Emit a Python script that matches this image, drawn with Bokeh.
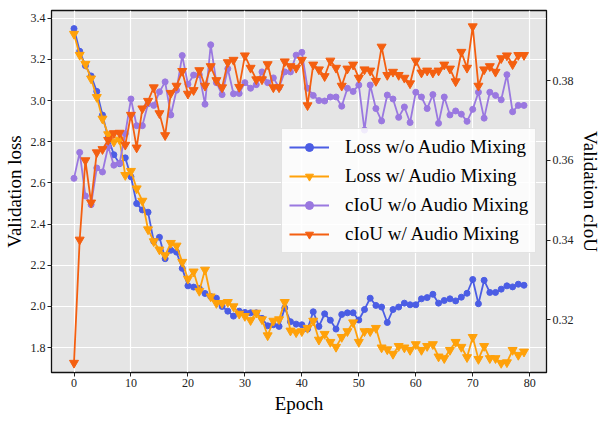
from bokeh.plotting import figure
from bokeh.models import (Range1d, LinearAxis, Legend, LegendItem, FixedTicker,
                          PrintfTickFormatter)
from bokeh.embed import file_html
from bokeh.resources import INLINE

epochs = list(range(80))

loss_wo = [3.35, 3.24, 3.17, 3.12, 3.045, 2.93, 2.82, 2.737, 2.694, 2.722,
           2.63, 2.50, 2.469, 2.458, 2.316, 2.336, 2.232, 2.273, 2.264, 2.185,
           2.10, 2.094, 2.087, 2.063, 2.048, 2.04, 2.00, 1.977, 1.953, 1.977,
           1.971, 1.969, 1.969, 1.942, 1.906, 1.911, 1.903, 1.993, 1.926, 1.914,
           1.911, 1.89, 1.974, 1.903, 1.964, 1.933, 1.890, 1.961, 1.969, 1.969,
           1.934, 1.985, 2.040, 2.005, 1.997, 1.922, 1.985, 1.997, 2.016, 2.008,
           2.008, 2.037, 2.043, 2.059, 2.016, 2.029, 2.037, 2.027, 2.045, 2.064,
           2.131, 2.013, 2.127, 2.068, 2.068, 2.084, 2.100, 2.095, 2.108, 2.103]

loss_w = [3.324, 3.222, 3.178, 3.107, 3.017, 2.912, 2.836, 2.80, 2.81, 2.638,
          2.658, 2.573, 2.513, 2.374, 2.316, 2.276, 2.248, 2.308, 2.295, 2.216,
          2.134, 2.169, 2.075, 2.178, 2.048, 2.016, 2.016, 2.021, 2.00, 1.964,
          1.953, 1.933, 1.969, 1.937, 1.859, 1.930, 1.937, 2.021, 1.882, 1.874,
          1.879, 1.895, 1.930, 1.838, 1.866, 1.827, 1.803, 1.851, 1.879, 1.922,
          1.827, 1.879, 1.879, 1.895, 1.800, 1.791, 1.769, 1.807, 1.800, 1.788,
          1.816, 1.788, 1.807, 1.816, 1.756, 1.748, 1.788, 1.827, 1.803, 1.753,
          1.851, 1.744, 1.807, 1.748, 1.748, 1.725, 1.728, 1.788, 1.764, 1.780]

ciou_wo = [0.3555, 0.362, 0.3511, 0.3489, 0.3581, 0.3571, 0.3635, 0.3588, 0.3593, 0.3667,
           0.3754, 0.3687, 0.3687, 0.3742, 0.3738, 0.3772, 0.3797, 0.3714, 0.3776, 0.3863,
           0.3791, 0.3814, 0.3815, 0.3741, 0.389, 0.3795, 0.3765, 0.383, 0.3767, 0.3768,
           0.3795, 0.3781, 0.379, 0.3822, 0.3795, 0.3807, 0.3783, 0.3822, 0.3822, 0.3864,
           0.3871, 0.3781, 0.3763, 0.375, 0.3749, 0.3759, 0.3759, 0.3736, 0.3781, 0.3773,
           0.3789, 0.3676, 0.3789, 0.373, 0.3699, 0.3764, 0.3754, 0.3708, 0.3734, 0.3695,
           0.3771, 0.3759, 0.373, 0.3765, 0.3693, 0.3759, 0.3714, 0.3724, 0.3716, 0.3698,
           0.3728, 0.3771, 0.3706, 0.3771, 0.3763, 0.3752, 0.3815, 0.3722, 0.3738, 0.3738]

ciou_w = [0.3092, 0.3401, 0.36, 0.3494, 0.362, 0.3628, 0.3651, 0.3668, 0.3669, 0.3639,
          0.3714, 0.3632, 0.373, 0.3749, 0.3783, 0.3718, 0.3663, 0.3769, 0.3787, 0.3824,
          0.3767, 0.3776, 0.3826, 0.3787, 0.3836, 0.3801, 0.3783, 0.3846, 0.3852, 0.3784,
          0.3863, 0.3832, 0.3803, 0.3803, 0.3841, 0.3783, 0.3783, 0.3848, 0.3836, 0.3832,
          0.3852, 0.3738, 0.384, 0.3828, 0.3811, 0.385, 0.3832, 0.3787, 0.383, 0.384,
          0.3807, 0.3828, 0.3825, 0.3799, 0.3885, 0.3814, 0.3822, 0.3814, 0.3807, 0.3793,
          0.385, 0.382, 0.3825, 0.382, 0.3825, 0.384, 0.383, 0.3798, 0.3872, 0.3832,
          0.3936, 0.3787, 0.3828, 0.3836, 0.3822, 0.3856, 0.3863, 0.3841, 0.3864, 0.3864]

labels = ["Loss w/o Audio Mixing", "Loss w/ Audio Mixing",
          "cIoU w/o Audio Mixing", "cIoU w/ Audio Mixing"]
x_ticks = [0, 10, 20, 30, 40, 50, 60, 70, 80]
loss_ticks = [1.8, 2.0, 2.2, 2.4, 2.6, 2.8, 3.0, 3.2, 3.4]
ciou_ticks = [0.32, 0.34, 0.36, 0.38]

SERIF = "Liberation Serif"
BLUE, ORANGE, PURPLE, RED = "#4B5DE4", "#FFA10A", "#9A78E0", "#F45F10"

p = figure(width=603, height=416, output_backend="svg", toolbar_location=None,
           x_range=Range1d(-3.95, 82.95), y_range=Range1d(1.679, 3.438),
           min_border_left=50, min_border_right=30, min_border_top=10,
           min_border_bottom=30)
p.extra_y_ranges = {"ciou": Range1d(0.3068, 0.3976)}

p.background_fill_color = "#E5E5E5"
p.border_fill_color = "white"
p.outline_line_color = "#111111"
p.outline_line_width = 1.3
p.grid.grid_line_color = "white"
p.grid.grid_line_width = 1.2
p.xgrid.ticker = FixedTicker(ticks=x_ticks)
p.ygrid.ticker = FixedTicker(ticks=loss_ticks)

def style_axis(ax):
    ax.major_label_text_font = SERIF
    ax.major_label_text_font_size = "12px"
    ax.major_label_text_color = "#222222"
    ax.axis_label_text_font = SERIF
    ax.axis_label_text_font_style = "normal"
    ax.axis_label_text_font_size = "19px"
    ax.axis_label_text_color = "black"
    ax.minor_tick_line_color = None
    ax.major_tick_out = 4
    ax.major_tick_in = 0
    ax.major_tick_line_color = "#222222"
    ax.axis_line_color = "#111111"
    ax.major_label_standoff = 2
    ax.axis_label_standoff = 3

p.xaxis.ticker = FixedTicker(ticks=x_ticks)
p.xaxis.axis_label = "Epoch"
p.yaxis.ticker = FixedTicker(ticks=loss_ticks)
p.yaxis.formatter = PrintfTickFormatter(format="%.1f")
p.yaxis.axis_label = "Validation loss"
style_axis(p.xaxis[0])
style_axis(p.yaxis[0])

rax = LinearAxis(y_range_name="ciou", axis_label="Validation cIoU",
                 ticker=FixedTicker(ticks=ciou_ticks),
                 formatter=PrintfTickFormatter(format="%.2f"))
style_axis(rax)
p.add_layout(rax, "right")

items = []
series = [(loss_wo, BLUE, "circle", 6, "default"),
          (loss_w, ORANGE, "inverted_triangle", 9, "default"),
          (ciou_wo, PURPLE, "circle", 6, "ciou"),
          (ciou_w, RED, "inverted_triangle", 9, "ciou")]
for (vals, col, mk, sz, rng), lab in zip(series, labels):
    ln = p.line(epochs, vals, line_color=col, line_width=1.8, y_range_name=rng)
    sc = p.scatter(epochs, vals, marker=mk, size=sz, fill_color=col,
                   line_color=col, y_range_name=rng)
    items.append(LegendItem(label=lab, renderers=[ln, sc]))

legend = Legend(items=items, location=(230, 119),
                label_text_font=SERIF, label_text_font_size="19px",
                label_text_color="black",
                glyph_width=40, glyph_height=20, label_height=20,
                label_standoff=16, spacing=7, padding=7, margin=0,
                background_fill_color="white", background_fill_alpha=0.85,
                border_line_color="#CCCCCC", border_line_width=1)
p.add_layout(legend, "center")

open("out.html", "w").write(file_html(p, INLINE))
